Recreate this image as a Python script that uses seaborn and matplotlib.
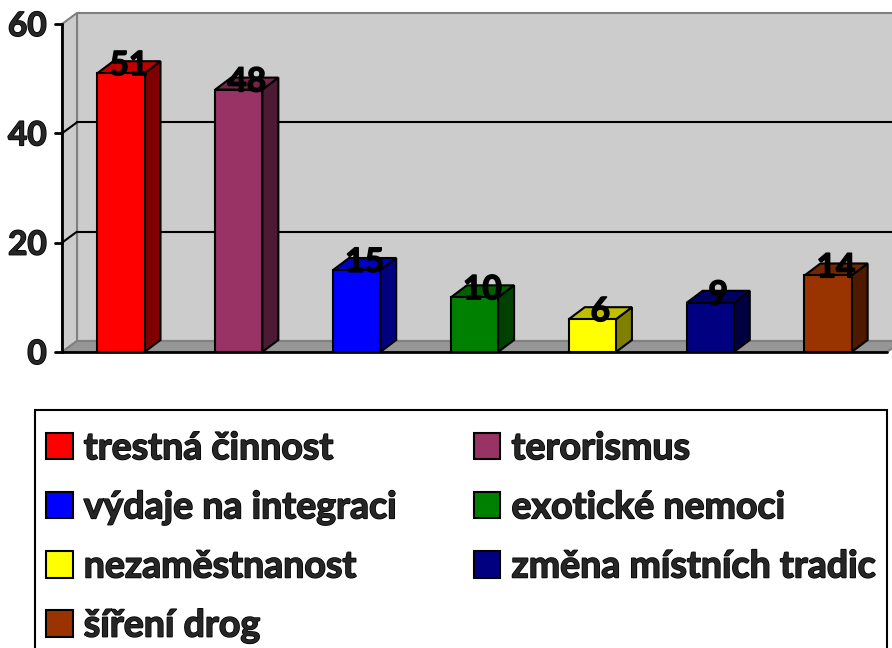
import numpy as np
import pandas as pd
from matplotlib import pyplot as plt
from matplotlib.patches import Polygon, Patch, Rectangle
import matplotlib.patheffects as pe
import seaborn as sns

# data
categories = ["trestná činnost", "terorismus", "výdaje na integraci", "exotické nemoci",
              "nezaměstnanost", "změna místních tradic", "šíření drog"]
values = [51, 48, 15, 10, 6, 9, 14]
front_colors = ["#FF0000", "#993366", "#0000FF", "#008000", "#FFFF00", "#000080", "#993300"]
side_colors = ["#800000", "#4D1A33", "#000080", "#004000", "#808000", "#000040", "#4D1A00"]
top_colors = ["#BF0000", "#732649", "#0000BF", "#006000", "#BFBF00", "#000060", "#732600"]
y_ticks = [0, 20, 40, 60]

sns.set_style("white")
plt.rcParams['font.family'] = ['Lato', 'DejaVu Sans']
WEIGHT = "bold"
# thicken strokes a bit, the original font is heavier than Lato Bold
heavy = [pe.withStroke(linewidth=1.1, foreground="black")]

W, H = 892, 648
fig = plt.figure(figsize=(W / 100, H / 100), dpi=100)
# front plane of the 3D plot
ax_l, ax_b, ax_w, ax_h = 62, 352, 825, 328
ax = fig.add_axes([ax_l / W, (H - ax_b) / H, ax_w / W, ax_h / H])

df = pd.DataFrame({"cat": categories, "val": values})
sns.barplot(data=df, x="cat", y="val", hue="cat", palette=front_colors, legend=False,
            width=0.4, edgecolor="black", linewidth=1.5, saturation=1, ax=ax, zorder=5)
ax.set_xlim(-0.5, len(categories) - 0.5)
ax.set_ylim(0, 60)

# pixel -> data offsets for depth
ux = (len(categories)) / ax_w
uy = 60 / ax_h
wdx, wdy = 15 * ux, 11 * uy   # walls
bdx, bdy = 16 * ux, 12 * uy   # bars

x0, x1 = -0.5, len(categories) - 0.5
# back wall
back = Polygon([(x0 + wdx, wdy), (x1 + wdx + 1, wdy), (x1 + wdx + 1, 60 + wdy), (x0 + wdx, 60 + wdy)],
               closed=True, facecolor="#CCCCCC", edgecolor="#808080", lw=1.5, clip_on=False, zorder=0)
ax.add_patch(back)
# left wall
left = Polygon([(x0, 0), (x0 + wdx, wdy), (x0 + wdx, 60 + wdy), (x0, 60)],
               closed=True, facecolor="#CCCCCC", edgecolor="#808080", lw=1.5, clip_on=False, zorder=0)
ax.add_patch(left)
# floor
floor = Polygon([(x0, 0), (x1, 0), (x1 + wdx, wdy), (x0 + wdx, wdy)],
                closed=True, facecolor="#969696", edgecolor="#808080", lw=1.5, clip_on=False, zorder=1)
ax.add_patch(floor)
# gridlines on back and left wall
for t in y_ticks[1:-1]:
    ax.plot([x0 + wdx, x1 + wdx + 1], [t + wdy, t + wdy], color="black", lw=1.5, clip_on=False, zorder=1)
    ax.plot([x0, x0 + wdx], [t, t + wdy], color="black", lw=1.5, clip_on=False, zorder=1)
ax.plot([x0, x1], [0, 0], color="black", lw=2, clip_on=False, zorder=2)
ax.plot([x0, x0], [0, 60], color="black", lw=2, clip_on=False, zorder=2)
for t in y_ticks:
    ax.plot([x0 - 7 * ux, x0], [t, t], color="black", lw=2, clip_on=False, zorder=2)

# 3D sides and tops of bars
bars = [pp for pp in ax.patches if pp.get_zorder() == 5]
for i, p in enumerate(bars):
    bx, bw, bh = p.get_x(), p.get_width(), p.get_height()
    side = Polygon([(bx + bw, 0), (bx + bw + bdx, bdy), (bx + bw + bdx, bh + bdy), (bx + bw, bh)],
                   closed=True, facecolor=side_colors[i], edgecolor="black", lw=1.5, zorder=4)
    top = Polygon([(bx, bh), (bx + bw, bh), (bx + bw + bdx, bh + bdy), (bx + bdx, bh + bdy)],
                  closed=True, facecolor=top_colors[i], edgecolor="black", lw=1.5, zorder=4)
    ax.add_patch(side)
    ax.add_patch(top)
    ax.text(bx + bw / 2 + bdx / 2, bh + bdy / 2 + 0.3, str(values[i]), ha="center", va="center",
            fontsize=24, fontweight=WEIGHT, color="black", zorder=6, path_effects=heavy)

ax.set_yticks(y_ticks)
ax.set_yticklabels([str(t) for t in y_ticks], fontsize=24, fontweight=WEIGHT)
for lab in ax.get_yticklabels():
    lab.set_path_effects(heavy)
ax.tick_params(axis="y", length=0, pad=11)
ax.set_xticks([])
ax.set_xlabel("")
ax.set_ylabel("")
sns.despine(ax=ax, left=True, bottom=True)
ax.patch.set_alpha(0)

# legend box (runs off the bottom edge like the original)
fig.patches.append(Rectangle((35 / W, -0.05), (887 - 35) / W, (H - 410) / H + 0.05,
                             transform=fig.transFigure, fill=False, edgecolor="black", lw=1.5))

# legend, row-wise order in two columns
order = [0, 2, 4, 6, 1, 3, 5]
handles = [Patch(facecolor=front_colors[i], edgecolor="black", lw=1.5, label=categories[i]) for i in order]
leg = fig.legend(handles=handles, loc="upper left", ncol=2, mode="expand",
                 bbox_to_anchor=(35 / W, 0, (887 - 35) / W, 1 - 420 / H),
                 prop={'size': 27, 'weight': WEIGHT}, frameon=False,
                 handlelength=0.7, handleheight=0.7, handletextpad=0.3,
                 labelspacing=0.67, borderpad=0.3, borderaxespad=0)
for t in leg.get_texts():
    t.set_path_effects(heavy)

fig.savefig("out.png", dpi=100)
